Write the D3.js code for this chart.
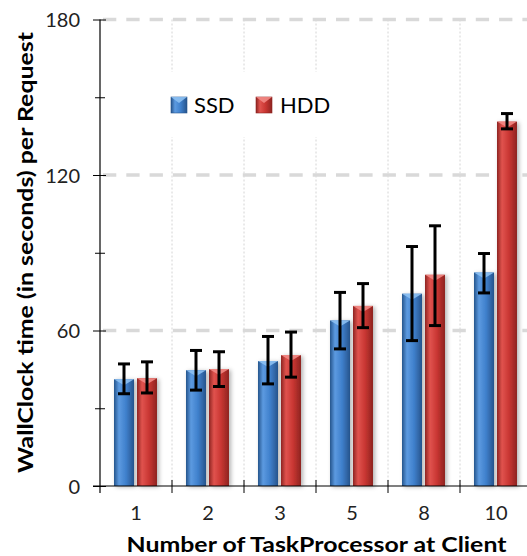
<!DOCTYPE html>
<html>
<head>
<meta charset="utf-8">
<script src="https://cdn.jsdelivr.net/npm/d3@7"></script>
<style>
  body { margin: 0; background: #fff; }
  svg { display: block; font-family: Lato, "Open Sans", sans-serif; }
</style>
</head>
<body>
<svg id="chart" width="527" height="556"></svg>
<script>
const categories = ["1", "2", "3", "5", "8", "10"]
const seriesNames = ["SSD", "HDD"]
const ssdMean = [41.2, 44.7, 48.2, 63.9, 74.2, 82.4]
const ssdLow = [35.6, 37.0, 39.4, 52.9, 56.1, 74.5]
const ssdHigh = [47.1, 52.3, 57.7, 74.7, 92.4, 89.7]
const hddMean = [41.6, 45.1, 50.5, 69.5, 81.5, 140.6]
const hddLow = [35.9, 38.4, 42.0, 61.1, 61.9, 137.8]
const hddHigh = [47.9, 51.8, 59.4, 78.1, 100.4, 143.7]
const yTicks = [0, 60, 120, 180]
const yMinorTicks = [30, 90, 150]

const svg = d3.select("#chart")
const defs = svg.append("defs")

const palette = {
    SSD: {dark: "#26548c", mid: "#3f80cc", light: "#5c9ae0", top: "#8cc0f2"},
    HDD: {dark: "#8e2421", mid: "#c93632", light: "#e0534e", top: "#f28a85"}
}

//horizontal gradient that gives the bars their rounded look
for (const name of seriesNames) {
    const c = palette[name]
    const g = defs.append("linearGradient").attr("id", "grad" + name)
        .attr("x1", "0%").attr("x2", "100%").attr("y1", "0%").attr("y2", "0%")
    g.append("stop").attr("offset", "0%").attr("stop-color", c.dark)
    g.append("stop").attr("offset", "25%").attr("stop-color", c.light)
    g.append("stop").attr("offset", "60%").attr("stop-color", c.mid)
    g.append("stop").attr("offset", "100%").attr("stop-color", c.dark)
}

const shadow = defs.append("filter").attr("id", "shadow")
    .attr("x", "-20%").attr("y", "-10%").attr("width", "160%").attr("height", "130%")
shadow.append("feDropShadow").attr("dx", 2).attr("dy", 1).attr("stdDeviation", 2)
    .attr("flood-color", "#000").attr("flood-opacity", 0.3)

const x = d3.scaleBand().domain(categories).range([100, 532])
const x1 = d3.scaleBand().domain(seriesNames).range([14, 57]).paddingInner(0.1304)
const y = d3.scaleLinear().domain([0, 180]).range([486, 19.5])

// grid
const grid = svg.append("g")
grid.selectAll("line.v").data(categories.slice(1))
    .join("line").attr("class", "v")
    .attr("x1", d => x(d)).attr("x2", d => x(d))
    .attr("y1", y(180)).attr("y2", y(0))
    .attr("stroke", "#d4d4d4").attr("stroke-width", 1).attr("stroke-dasharray", "2,2")
grid.selectAll("line.h").data(yTicks.slice(1))
    .join("line").attr("class", "h")
    .attr("x1", 103).attr("x2", 527)
    .attr("y1", d => y(d)).attr("y2", d => y(d))
    .attr("stroke", "#d9d9d9").attr("stroke-width", 3.3).attr("stroke-dasharray", "13.3,10")

// legend box hides the grid behind it
const legend = svg.append("g")
legend.append("rect").attr("x", 150).attr("y", 72).attr("width", 195).attr("height", 65).attr("fill", "#fff")

function drawBevel(sel, bx, by, w, name) {
    const tri = Math.min(6, w / 2)
    sel.append("path")
        .attr("d", `M${bx} ${by} L${bx + w} ${by} L${bx + w / 2} ${by + tri} Z`)
        .attr("fill", palette[name].top).attr("opacity", 0.9)
}

const legendItems = [{name: "SSD", x: 171, tx: 194}, {name: "HDD", x: 256, tx: 280}]
for (const it of legendItems) {
    legend.append("rect").attr("x", it.x).attr("y", 97).attr("width", 16).attr("height", 16)
        .attr("fill", `url(#grad${it.name})`).attr("stroke", palette[it.name].dark).attr("stroke-width", 0.6)
    drawBevel(legend, it.x, 97, 16, it.name)
    legend.append("text").attr("x", it.tx).attr("y", 112.5)
        .attr("font-size", 22).attr("fill", "#000").text(it.name)
}

// bars
const rows = categories.map((c, i) => [
    {cat: c, name: "SSD", v: ssdMean[i], lo: ssdLow[i], hi: ssdHigh[i]},
    {cat: c, name: "HDD", v: hddMean[i], lo: hddLow[i], hi: hddHigh[i]}
]).flat()

const bars = svg.append("g")
const barG = bars.selectAll("g").data(rows).join("g")
barG.append("rect")
    .attr("x", d => x(d.cat) + x1(d.name))
    .attr("y", d => y(d.v))
    .attr("width", x1.bandwidth())
    .attr("height", d => y(0) - y(d.v))
    .attr("fill", d => `url(#grad${d.name})`)
    .attr("filter", "url(#shadow)")
barG.each(function(d) {
    drawBevel(d3.select(this), x(d.cat) + x1(d.name), y(d.v), x1.bandwidth(), d.name)
})

// error bars
const err = svg.append("g").attr("stroke", "#000").attr("stroke-width", 3)
const cx = d => x(d.cat) + x1(d.name) + x1.bandwidth() / 2
err.selectAll("line.stem").data(rows).join("line").attr("class", "stem")
    .attr("x1", cx).attr("x2", cx).attr("y1", d => y(d.hi)).attr("y2", d => y(d.lo))
err.selectAll("line.capHi").data(rows).join("line").attr("class", "capHi")
    .attr("x1", d => cx(d) - 6).attr("x2", d => cx(d) + 6).attr("y1", d => y(d.hi)).attr("y2", d => y(d.hi))
err.selectAll("line.capLo").data(rows).join("line").attr("class", "capLo")
    .attr("x1", d => cx(d) - 6).attr("x2", d => cx(d) + 6).attr("y1", d => y(d.lo)).attr("y2", d => y(d.lo))

// y axis
const yAxis = svg.append("g").attr("transform", "translate(100,0)")
    .call(d3.axisLeft(y).tickValues(yTicks).tickSizeInner(7).tickSizeOuter(0).tickPadding(13))
yAxis.select(".domain").remove()
yAxis.selectAll(".tick line").attr("x2", -7).attr("x1", 6).attr("stroke", "#000")
yAxis.selectAll(".tick text").attr("font-size", 20).attr("font-family", "Lato, sans-serif").attr("fill", "#222")
    .attr("dy", "0.36em")
svg.append("g").attr("transform", "translate(100,0)")
    .call(d3.axisLeft(y).tickValues(yMinorTicks).tickSize(5).tickFormat(""))
    .call(g => g.select(".domain").remove())
    .selectAll(".tick line").attr("x1", 5).attr("stroke", "#000")
svg.append("line").attr("x1", 100).attr("x2", 100).attr("y1", y(180)).attr("y2", 493)
    .attr("stroke", "#000").attr("stroke-width", 1.2)

// x axis
svg.append("line").attr("x1", 93).attr("x2", 527).attr("y1", y(0)).attr("y2", y(0))
    .attr("stroke", "#000").attr("stroke-width", 1.2)
svg.append("g").selectAll("line").data(categories.slice(1))
    .join("line")
    .attr("x1", d => x(d)).attr("x2", d => x(d)).attr("y1", y(0) - 6).attr("y2", y(0) + 7)
    .attr("stroke", "#000")
const xAxis = svg.append("g").attr("transform", `translate(0,${y(0)})`)
    .call(d3.axisBottom(x).tickSize(0).tickPadding(20))
xAxis.select(".domain").remove()
xAxis.selectAll(".tick text").attr("font-size", 20).attr("font-family", "Lato, sans-serif").attr("fill", "#222")

// titles
svg.append("text").attr("x", 316.5).attr("y", 552).attr("text-anchor", "middle")
    .attr("font-size", 21).attr("font-weight", "bold").attr("fill", "#000")
    .attr("textLength", 380).attr("lengthAdjust", "spacingAndGlyphs")
    .text("Number of TaskProcessor at Client")
svg.append("text").attr("transform", "translate(33,252.5) rotate(-90)").attr("text-anchor", "middle")
    .attr("font-size", 21).attr("font-weight", "bold").attr("fill", "#000")
    .attr("textLength", 441).attr("lengthAdjust", "spacingAndGlyphs")
    .text("WallClock time (in seconds) per Request")
</script>
</body>
</html>
